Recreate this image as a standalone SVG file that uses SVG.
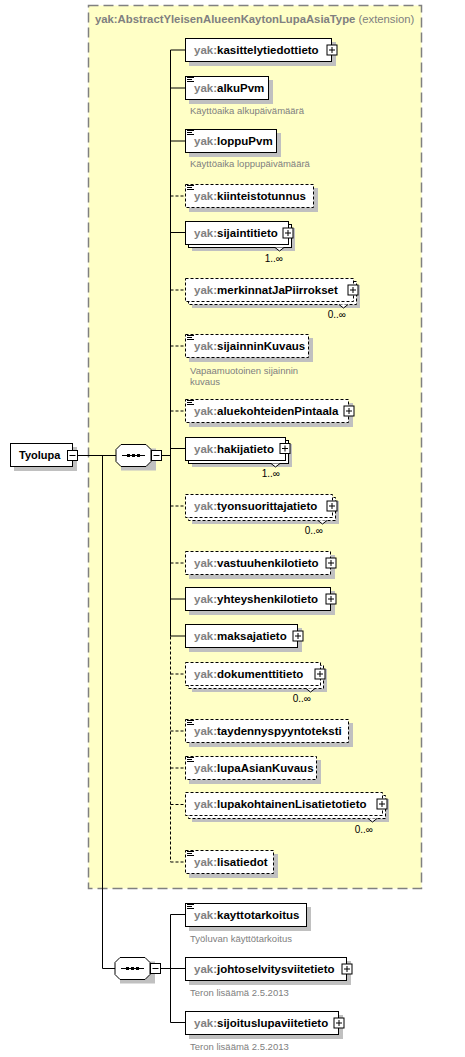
<svg xmlns="http://www.w3.org/2000/svg" xmlns:xlink="http://www.w3.org/1999/xlink" width="465" height="1057" viewBox="0 0 465 1057">
<style>
text{font-family:"Liberation Sans",Arial,sans-serif}
.lbl{font-size:11.5px;font-weight:bold;fill:#000}
.ns{fill:#808080}
.desc{font-size:9.5px;fill:#808080}
.mult{font-size:10px;fill:#000;text-anchor:end}
.box{fill:#fff;stroke:#000;stroke-width:1}
.dbox{fill:#fff;stroke:#000;stroke-width:1;stroke-dasharray:3,2}
.sh{fill:#c0c0c0}
.ln{stroke:#000;stroke-width:1;fill:none}
.dln{stroke:#000;stroke-width:1;fill:none;stroke-dasharray:3,2}
.notch{fill:#fff;stroke:#000;stroke-width:1}
</style>
<defs>
<g id="plus"><rect x="0" y="0" width="10" height="10" fill="#fff" stroke="#000"/><path d="M2 5H8M5 2V8" stroke="#000" fill="none"/></g>
<g id="minus"><rect x="0" y="0" width="10" height="10" fill="#fff" stroke="#000"/><path d="M2 5H8" stroke="#000" fill="none"/></g>
<g id="st"><path d="M0 0.5H7M0 2.5H5M0 4.5H7" stroke="#000" stroke-width="1" fill="none"/></g>
<g id="seq">
<path d="M5 4H40V26H5Z" class="sh"/>
<path d="M5 0H30L35 5V17L30 22H5L0 17V5Z" fill="#fff" stroke="#000"/>
<path d="M6 11H29" stroke="#000"/>
<rect x="11" y="9.5" width="3" height="3" fill="#000"/><rect x="16" y="9.5" width="3" height="3" fill="#000"/><rect x="21" y="9.5" width="3" height="3" fill="#000"/>
</g>
</defs>

<rect id="typebox" x="88.5" y="5.5" width="333" height="883" fill="#ffffc6" stroke="#808080" stroke-width="1.5" stroke-dasharray="10,5"/>
<text x="95" y="23" style="font-size:11.3px;fill:#808080"><tspan font-weight="bold">yak:AbstractYleisenAlueenKaytonLupaAsiaType</tspan> (extension)</text>

<g id="connectors">
<path class="ln" d="M78 455.5H116M102.5 455.5V968.5H115M161 455.5H170.5M170.5 50V636.5"/>
<path class="dln" d="M170.5 636.5V862"/>
<path class="ln" d="M170.5 50H185M170.5 88H185M170.5 141H185M170.5 232.5H185M170.5 448.5H185M170.5 599H185M170.5 636H185"/>
<path class="dln" d="M170.5 196H185M170.5 290H185M170.5 346H185M170.5 411H185M170.5 506H185M170.5 563H185M170.5 674H185M170.5 731H185M170.5 768H185M170.5 804.5H185M170.5 862H185"/>
<path class="ln" d="M161 968.5H170.5M170.5 914.5V1022.5M170.5 914.5H185M170.5 968.5H185M170.5 1022.5H185"/>
</g>

<g id="Tyolupa">
<rect class="sh" x="14" y="447" width="63" height="24"/>
<rect class="box" x="10.5" y="443.5" width="62" height="23"/>
<text class="lbl" x="19" y="459" style="font-size:11px">Tyolupa</text>
<use xlink:href="#minus" x="67.5" y="450.5"/>
</g>

<g id="seq1"><use xlink:href="#seq" x="116" y="444.5"/><use xlink:href="#minus" x="151.5" y="450.5"/></g>
<g id="seq2"><use xlink:href="#seq" x="115" y="957.5"/><use xlink:href="#minus" x="150.5" y="963.5"/></g>

<g id="kasittelytiedottieto">
<rect class="sh" x="189" y="42" width="147" height="24"/>
<rect class="box" x="185.5" y="38.5" width="146" height="23"/>
<text class="lbl" x="194" y="54"><tspan class="ns">yak:</tspan>kasittelytiedottieto</text>
<use xlink:href="#plus" x="327" y="45"/>
</g>

<g id="alkuPvm">
<rect class="sh" x="189" y="80" width="84" height="24"/>
<rect class="box" x="185.5" y="76.5" width="83" height="23"/>
<use xlink:href="#st" x="187" y="77"/>
<text class="lbl" x="194" y="92"><tspan class="ns">yak:</tspan>alkuPvm</text>
<text class="desc" x="190" y="114">Käyttöaika alkupäivämäärä</text>
</g>

<g id="loppuPvm">
<rect class="sh" x="189" y="133" width="92" height="24"/>
<rect class="box" x="185.5" y="129.5" width="91" height="23"/>
<use xlink:href="#st" x="187" y="130"/>
<text class="lbl" x="194" y="145"><tspan class="ns">yak:</tspan>loppuPvm</text>
<text class="desc" x="190" y="167">Käyttöaika loppupäivämäärä</text>
</g>

<g id="kiinteistotunnus">
<rect class="sh" x="189" y="188" width="129" height="24"/>
<rect class="dbox" x="185.5" y="184.5" width="128" height="23"/>
<use xlink:href="#st" x="187" y="185"/>
<text class="lbl" x="194" y="200"><tspan class="ns">yak:</tspan>kiinteistotunnus</text>
</g>

<g id="sijaintitieto">
<rect class="sh" x="192" y="228" width="103" height="23"/>
<rect class="box" x="188.5" y="224.5" width="103" height="23"/>
<rect class="box" x="185.5" y="221.5" width="103" height="23"/>
<path class="notch" d="M275 247.5L279.5 251L284 247.5"/>
<text class="lbl" x="194" y="237"><tspan class="ns">yak:</tspan>sijaintitieto</text>
<use xlink:href="#plus" x="283" y="228"/>
<text class="mult" x="283" y="262">1..∞</text>
</g>

<g id="merkinnatJaPiirrokset">
<rect class="sh" x="192" y="285" width="168" height="23"/>
<rect class="dbox" x="188.5" y="281.5" width="168" height="23"/>
<rect class="dbox" x="185.5" y="278.5" width="168" height="23"/>
<path class="notch" d="M339 304.5L343.5 308L348 304.5"/>
<text class="lbl" x="194" y="294"><tspan class="ns">yak:</tspan>merkinnatJaPiirrokset</text>
<use xlink:href="#plus" x="348" y="285"/>
<text class="mult" x="346" y="318">0..∞</text>
</g>

<g id="sijainninKuvaus">
<rect class="sh" x="189" y="338" width="124" height="24"/>
<rect class="dbox" x="185.5" y="334.5" width="123" height="23"/>
<use xlink:href="#st" x="187" y="335"/>
<text class="lbl" x="194" y="350"><tspan class="ns">yak:</tspan>sijainninKuvaus</text>
<text class="desc" x="190" y="374">Vapaamuotoinen sijainnin</text>
<text class="desc" x="190" y="385">kuvaus</text>
</g>

<g id="aluekohteidenPintaala">
<rect class="sh" x="189" y="403" width="164" height="24"/>
<rect class="dbox" x="185.5" y="399.5" width="163" height="23"/>
<use xlink:href="#st" x="187" y="400"/>
<text class="lbl" x="194" y="415"><tspan class="ns">yak:</tspan>aluekohteidenPintaala</text>
<use xlink:href="#plus" x="344" y="406"/>
</g>

<g id="hakijatieto">
<rect class="sh" x="192" y="444" width="100" height="23"/>
<rect class="box" x="188.5" y="440.5" width="100" height="23"/>
<rect class="box" x="185.5" y="437.5" width="100" height="23"/>
<path class="notch" d="M271 463.5L275.5 467L280 463.5"/>
<text class="lbl" x="194" y="453"><tspan class="ns">yak:</tspan>hakijatieto</text>
<use xlink:href="#plus" x="280" y="443.5"/>
<text class="mult" x="280" y="477">1..∞</text>
</g>

<g id="tyonsuorittajatieto">
<rect class="sh" x="192" y="501" width="147" height="23"/>
<rect class="dbox" x="188.5" y="497.5" width="147" height="23"/>
<rect class="dbox" x="185.5" y="494.5" width="147" height="23"/>
<path class="notch" d="M318 520.5L322.5 524L327 520.5"/>
<text class="lbl" x="194" y="510"><tspan class="ns">yak:</tspan>tyonsuorittajatieto</text>
<use xlink:href="#plus" x="327" y="501"/>
<text class="mult" x="323" y="534">0..∞</text>
</g>

<g id="vastuuhenkilotieto">
<rect class="sh" x="189" y="555" width="146" height="24"/>
<rect class="dbox" x="185.5" y="551.5" width="145" height="23"/>
<text class="lbl" x="194" y="567"><tspan class="ns">yak:</tspan>vastuuhenkilotieto</text>
<use xlink:href="#plus" x="326" y="558"/>
</g>

<g id="yhteyshenkilotieto">
<rect class="sh" x="189" y="591" width="146" height="24"/>
<rect class="box" x="185.5" y="587.5" width="145" height="23"/>
<text class="lbl" x="194" y="603"><tspan class="ns">yak:</tspan>yhteyshenkilotieto</text>
<use xlink:href="#plus" x="326" y="594"/>
</g>

<g id="maksajatieto">
<rect class="sh" x="189" y="628" width="113" height="24"/>
<rect class="box" x="185.5" y="624.5" width="112" height="23"/>
<text class="lbl" x="194" y="640"><tspan class="ns">yak:</tspan>maksajatieto</text>
<use xlink:href="#plus" x="293" y="631"/>
</g>

<g id="dokumenttitieto">
<rect class="sh" x="192" y="669" width="135" height="23"/>
<rect class="dbox" x="188.5" y="665.5" width="135" height="23"/>
<rect class="dbox" x="185.5" y="662.5" width="135" height="23"/>
<path class="notch" d="M306 688.5L310.5 692L315 688.5"/>
<text class="lbl" x="194" y="678"><tspan class="ns">yak:</tspan>dokumenttitieto</text>
<use xlink:href="#plus" x="315" y="669"/>
<text class="mult" x="311" y="702">0..∞</text>
</g>

<g id="taydennyspyyntoteksti">
<rect class="sh" x="189" y="723" width="164" height="24"/>
<rect class="dbox" x="185.5" y="719.5" width="163" height="23"/>
<use xlink:href="#st" x="187" y="720"/>
<text class="lbl" x="194" y="735"><tspan class="ns">yak:</tspan>taydennyspyyntoteksti</text>
</g>

<g id="lupaAsianKuvaus">
<rect class="sh" x="189" y="760" width="132" height="24"/>
<rect class="dbox" x="185.5" y="756.5" width="131" height="23"/>
<use xlink:href="#st" x="187" y="757"/>
<text class="lbl" x="194" y="772"><tspan class="ns">yak:</tspan>lupaAsianKuvaus</text>
</g>

<g id="lupakohtainenLisatietotieto">
<rect class="sh" x="192" y="799" width="197" height="23"/>
<rect class="dbox" x="188.5" y="795.5" width="197" height="23"/>
<rect class="dbox" x="185.5" y="792.5" width="197" height="23"/>
<path class="notch" d="M368 818.5L372.5 822L377 818.5"/>
<text class="lbl" x="194" y="808"><tspan class="ns">yak:</tspan>lupakohtainenLisatietotieto</text>
<use xlink:href="#plus" x="377" y="799"/>
<text class="mult" x="373" y="833">0..∞</text>
</g>

<g id="lisatiedot">
<rect class="sh" x="189" y="854" width="89" height="24"/>
<rect class="dbox" x="185.5" y="850.5" width="88" height="23"/>
<use xlink:href="#st" x="187" y="851"/>
<text class="lbl" x="194" y="866"><tspan class="ns">yak:</tspan>lisatiedot</text>
</g>

<g id="kayttotarkoitus">
<rect class="sh" x="189" y="907" width="122" height="24"/>
<rect class="box" x="185.5" y="903.5" width="121" height="23"/>
<use xlink:href="#st" x="187" y="904"/>
<text class="lbl" x="194" y="919"><tspan class="ns">yak:</tspan>kayttotarkoitus</text>
<text class="desc" x="190" y="942">Työluvan käyttötarkoitus</text>
</g>

<g id="johtoselvitysviitetieto">
<rect class="sh" x="189" y="961" width="162" height="24"/>
<rect class="box" x="185.5" y="957.5" width="161" height="23"/>
<text class="lbl" x="194" y="973"><tspan class="ns">yak:</tspan>johtoselvitysviitetieto</text>
<use xlink:href="#plus" x="342" y="964"/>
<text class="desc" x="190" y="996">Teron lisäämä 2.5.2013</text>
</g>

<g id="sijoituslupaviitetieto">
<rect class="sh" x="189" y="1015" width="154" height="24"/>
<rect class="box" x="185.5" y="1011.5" width="153" height="23"/>
<text class="lbl" x="194" y="1027"><tspan class="ns">yak:</tspan>sijoituslupaviitetieto</text>
<use xlink:href="#plus" x="334" y="1018"/>
<text class="desc" x="190" y="1050">Teron lisäämä 2.5.2013</text>
</g>
</svg>
